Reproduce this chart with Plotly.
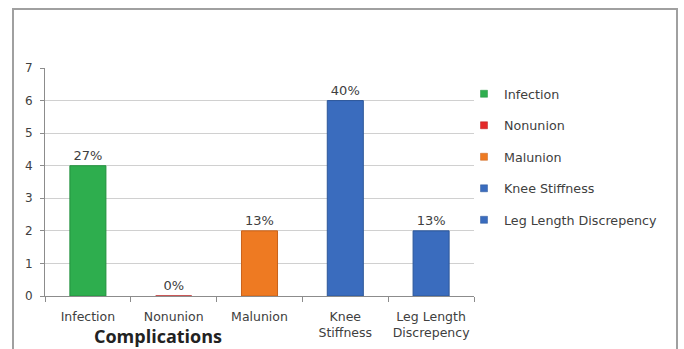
import plotly.graph_objects as go

categories = ["Infection", "Nonunion", "Malunion", "Knee Stiffness", "Leg Length Discrepency"]
tick_labels = ["Infection", "Nonunion", "Malunion", "Knee<br>Stiffness", "Leg Length<br>Discrepency"]
values = [4, 0, 2, 6, 2]
pct_labels = ["27%", "0%", "13%", "40%", "13%"]
colors = ["#2EAE4E", "#E42A2A", "#EE7A22", "#3A6CBE", "#3A6CBE"]
line_colors = ["#23913E", "#B81E1E", "#C9621A", "#2C5699", "#2C5699"]

L, R, T, B = 45, 474, 68, 296
PW, PH = R - L, B - T

fig = go.Figure()
for i, cat in enumerate(categories):
    fig.add_trace(go.Bar(
        x=[tick_labels[i]], y=[values[i]], name=cat,
        legendgroup=cat, showlegend=False,
        text=[pct_labels[i]], textposition="outside", cliponaxis=False,
        textfont=dict(size=13, color="#404040", family="DejaVu Sans"),
        marker=dict(color=colors[i], line=dict(color=line_colors[i], width=1)),
        width=0.42,
    ))
    # legend entry with a small square key, as in the reference
    fig.add_trace(go.Scatter(
        x=[None], y=[None], mode="markers", name=cat, legendgroup=cat,
        marker=dict(symbol="square", size=7, color=colors[i],
                    line=dict(color=line_colors[i], width=0.5)),
    ))

fig.update_layout(
    width=684, height=349,
    margin=dict(l=L, r=684 - R, t=T, b=349 - B, autoexpand=False),
    paper_bgcolor="white", plot_bgcolor="white",
    barmode="overlay",
    showlegend=True,
    font=dict(family="DejaVu Sans", color="#404040", size=12),
    legend=dict(x=(464 - L) / PW, y=(B - 79) / PH, xanchor="left", yanchor="top",
                font=dict(size=12.7, color="#404040", family="DejaVu Sans"),
                tracegroupgap=12, traceorder="grouped",
                bgcolor="rgba(0,0,0,0)"),
    xaxis=dict(categoryorder="array", categoryarray=tick_labels,
               showline=True, linecolor="#8C8C8C", linewidth=1,
               ticks="outside", tickson="boundaries", ticklen=5, tickcolor="#8C8C8C",
               tickfont=dict(size=12.5, color="#404040", family="DejaVu Sans"), showgrid=False,
               ticklabelstandoff=9, tickangle=0, automargin=False),
    yaxis=dict(range=[0, 7], dtick=1, showline=True, linecolor="#8C8C8C", linewidth=1,
               ticks="outside", ticklen=4, tickcolor="#8C8C8C",
               gridcolor="#D0D0D0", gridwidth=1, zeroline=False, automargin=False,
               tickfont=dict(size=12, color="#404040", family="DejaVu Sans"), ticklabelstandoff=5),
    annotations=[dict(text="<b>Complications</b>", xref="paper", yref="paper",
                      x=(158 - L) / PW, y=(B - 349) / PH, xanchor="center", yanchor="bottom",
                      borderpad=0,
                      showarrow=False, font=dict(size=18, color="#222222", family="Open Sans"))],
    shapes=[dict(type="rect", xref="paper", yref="paper",
                 x0=(13 - L) / PW, x1=(677 - L) / PW,
                 y0=(B - 360) / PH, y1=(B - 9) / PH,
                 line=dict(color="#A0A0A0", width=2), layer="below")],
)

fig.write_html("out.html")
